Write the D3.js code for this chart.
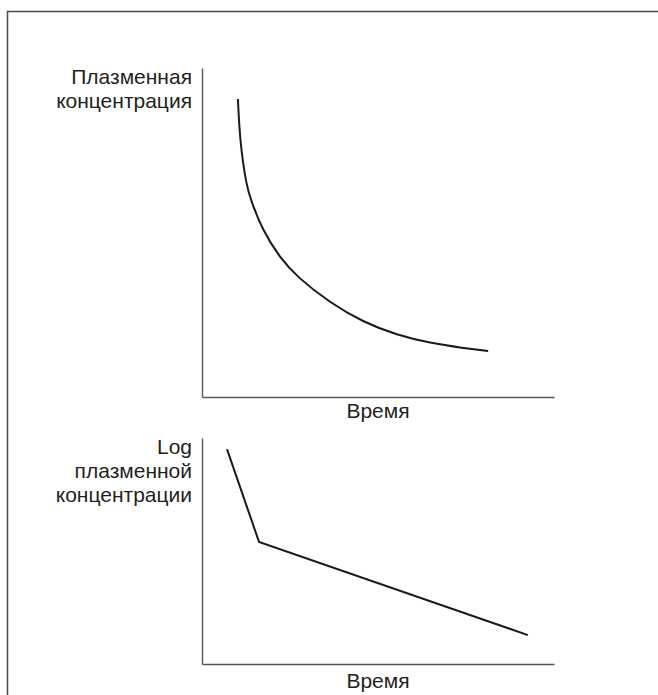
<!DOCTYPE html>
<html>
<head>
<meta charset="utf-8">
<script src="https://cdn.jsdelivr.net/npm/d3@7"></script>
<style>
  body { margin: 0; background: #fff; overflow: hidden; }
  text { font-family: "Liberation Sans", Arial, sans-serif; fill: #231f20; }
</style>
</head>
<body>
<script>
// Plasma concentration vs time (arbitrary units 0-100)
const timeTop = [10.2, 10.8, 12.7, 13.9, 17.0, 22.2, 27.0, 36.4, 45.7, 55.4, 64.8, 74.1, 81.3];
const concTop = [90.6, 77.2, 63.8, 59.9, 51.1, 42.2, 36.5, 28.6, 22.8, 18.8, 16.4, 14.9, 14.0];

// Log of plasma concentration vs time
const timeLog = [7.1, 16.2, 92.6];
const concLog = [95.1, 54.0, 12.8];

const yLabelTop = ['Плазменная', 'концентрация'];
const yLabelLog = ['Log', 'плазменной', 'концентрации'];
const xLabel = 'Время';

const width = 658, height = 695;

const svg = d3.select('body').append('svg')
  .attr('width', width)
  .attr('height', height);

// frame (only top/left visible, runs off the picture)
svg.append('rect')
  .attr('x', 7.5).attr('y', 11.5)
  .attr('width', 700).attr('height', 720)
  .attr('fill', 'none')
  .attr('stroke', '#4a4a4a')
  .attr('stroke-width', 1.5);

const xScale = d3.scaleLinear().domain([0, 100]).range([202, 554]);

function drawPanel(top, bottom, xs, ys, curve, labels, labelY, xLabelY) {
  const yScale = d3.scaleLinear().domain([0, 100]).range([bottom, top]);

  const g = svg.append('g');

  // axes without ticks
  g.append('g')
    .attr('transform', 'translate(0,' + bottom + ')')
    .call(d3.axisBottom(xScale).ticks(0).tickSizeOuter(0))
    .select('.domain').attr('stroke', '#555').attr('stroke-width', 1.4);

  g.append('g')
    .attr('transform', 'translate(202,0)')
    .call(d3.axisLeft(yScale).ticks(0).tickSizeOuter(0))
    .select('.domain').attr('stroke', '#555').attr('stroke-width', 1.4);

  const pts = xs.map((d, i) => [d, ys[i]]);
  const line = d3.line()
    .x(d => xScale(d[0]))
    .y(d => yScale(d[1]))
    .curve(curve);

  g.append('path')
    .datum(pts)
    .attr('d', line)
    .attr('fill', 'none')
    .attr('stroke', '#1a1a1a')
    .attr('stroke-width', 2);

  // y label, right aligned next to the axis
  g.selectAll('.ylab')
    .data(labels)
    .enter().append('text')
    .attr('class', 'ylab')
    .attr('x', 192)
    .attr('y', (d, i) => labelY + i * 24)
    .attr('text-anchor', 'end')
    .attr('font-size', '21px')
    .text(d => d);

  g.append('text')
    .attr('x', 378)
    .attr('y', xLabelY)
    .attr('text-anchor', 'middle')
    .attr('font-size', '21px')
    .text(xLabel);
}

drawPanel(68, 397, timeTop, concTop, d3.curveBasis, yLabelTop, 84, 418);
drawPanel(438, 664, timeLog, concLog, d3.curveLinear, yLabelLog, 454, 688);
</script>
</body>
</html>
